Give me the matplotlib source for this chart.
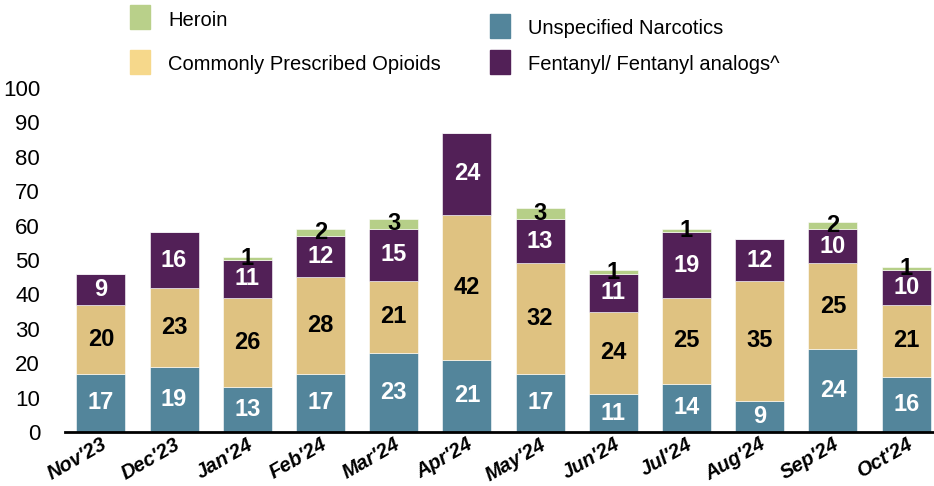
import numpy as np
import matplotlib.pyplot as plt
from matplotlib.patches import Rectangle

plt.rcParams['font.family'] = ['Liberation Sans', 'DejaVu Sans']

# Monthly counts by drug category
months = ["Nov'23", "Dec'23", "Jan'24", "Feb'24", "Mar'24", "Apr'24",
          "May'24", "Jun'24", "Jul'24", "Aug'24", "Sep'24", "Oct'24"]
unspecified = [17, 19, 13, 17, 23, 21, 17, 11, 14, 9, 24, 16]
opioids = [20, 23, 26, 28, 21, 42, 32, 24, 25, 35, 25, 21]
fentanyl = [9, 16, 11, 12, 15, 24, 13, 11, 19, 12, 10, 10]
heroin = [0, 0, 1, 2, 3, 0, 3, 1, 1, 0, 2, 1]

c_blue = "#53859b"
c_tan = "#dfc281"
c_purple = "#522057"
c_green = "#b6cf88"

fig = plt.figure(figsize=(9.34, 4.86), dpi=100)
ax = fig.add_axes([0.0696, 0.111, 0.9304, 0.708])

x = np.arange(len(months))
w = 0.67
series = [(unspecified, c_blue, "white"),
          (opioids, c_tan, "black"),
          (fentanyl, c_purple, "white"),
          (heroin, c_green, "black")]

bottom = np.zeros(len(months))
for vals, col, tcol in series:
    vals = np.array(vals)
    ax.bar(x, vals, w, bottom=bottom, color=col, edgecolor="white", linewidth=0.4)
    for xi, b, v in zip(x, bottom, vals):
        if v > 0:
            ax.text(xi, b + v / 2, str(v), ha="center", va="center",
                    color=tcol, fontsize=17, fontweight="bold")
    bottom += vals

ax.set_xlim(-0.49, 11.38)
ax.set_ylim(0, 100)
ax.set_yticks(range(0, 101, 10))
ax.set_xticks(x)
ax.set_xticklabels(months, rotation=30, ha="right", rotation_mode="anchor",
                   fontsize=14.5, fontweight="bold", fontstyle="italic")
ax.tick_params(axis="y", length=0, pad=18, labelsize=16)
ax.tick_params(axis="x", length=0, pad=2)
for s in ["top", "right", "left"]:
    ax.spines[s].set_visible(False)
ax.spines["bottom"].set_linewidth(2)

# Legend laid out in two columns above the plot
legend_items = [
    ("Heroin", "#b9d08a", 130, 5),
    ("Commonly Prescribed Opioids", "#f6d88b", 130, 50),
    ("Unspecified Narcotics", c_blue, 490, 14),
    ("Fentanyl/ Fentanyl analogs^", c_purple, 490, 50),
]
W, H = 934, 486
for label, col, px, py in legend_items:
    fig.add_artist(Rectangle((px / W, 1 - (py + 24) / H), 20 / W, 24 / H,
                             color=col, transform=fig.transFigure))
    fig.text((px + 38) / W, 1 - (py + 15) / H, label, fontsize=14.5,
             ha="left", va="center")

fig.savefig("out.png", dpi=100)
